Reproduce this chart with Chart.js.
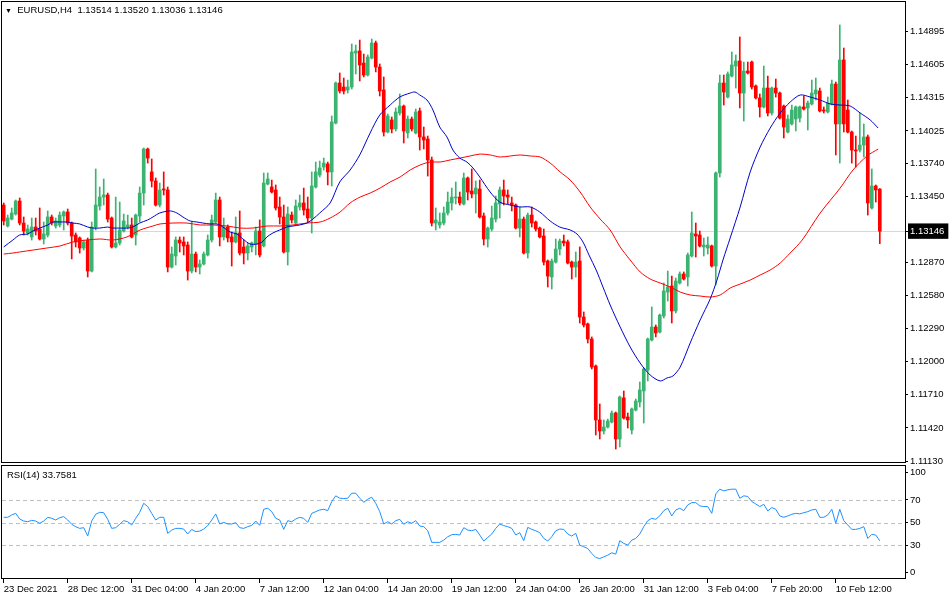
<!DOCTYPE html>
<html><head><meta charset="utf-8">
<script src="https://cdn.jsdelivr.net/npm/chart.js@4.4.0/dist/chart.umd.min.js"></script>
<style>
html,body{margin:0;padding:0;background:#fff;}
#wrap{position:relative;width:950px;height:600px;overflow:hidden;font-family:"Liberation Sans",Arial,sans-serif;}
#c1{position:absolute;left:0;top:0;}
#c2{position:absolute;left:0;top:464px;}
.lbl{position:absolute;font-size:9.5px;line-height:11px;color:#000;white-space:pre;}
</style></head><body>
<div id="wrap">
<canvas id="c1" width="950" height="464"></canvas>
<canvas id="c2" width="950" height="136"></canvas>
<div class="lbl" style="left:5px;top:4px;"><span style="font-size:7px;">▼</span>  EURUSD,H4  1.13514 1.13520 1.13036 1.13146</div>
<div class="lbl" style="left:7px;top:469px;">RSI(14) 33.7581</div>
</div>
<script>
// ---------- DATA ----------
const opens = [1.13375,1.13191,1.13252,1.13296,1.13410,1.13217,1.13130,1.13095,1.13182,1.13165,
1.13077,1.13112,1.13270,1.13191,1.13200,1.13279,1.13314,1.13217,1.13112,1.13086,
1.12998,1.13068,1.12796,1.13182,1.13366,1.13445,1.13463,1.13261,1.13007,1.13042,
1.13147,1.13182,1.13200,1.13112,1.13279,1.13480,1.13866,1.13665,1.13586,1.13375,
1.13515,1.13507,1.12831,1.12928,1.13068,1.13051,1.13024,1.12796,1.12945,1.12831,
1.12858,1.12937,1.13068,1.13226,1.13419,1.13095,1.13182,1.13095,1.13051,1.13130,
1.13007,1.12954,1.13007,1.13033,1.13147,1.13016,1.13559,1.13533,1.13507,1.13358,
1.13270,1.12963,1.13287,1.13217,1.13358,1.13393,1.13340,1.13261,1.13533,1.13638,
1.13708,1.13735,1.13665,1.14094,1.14445,1.14410,1.14384,1.14410,1.14708,1.14726,
1.14620,1.14515,1.14664,1.14796,1.14585,1.14384,1.14015,1.14121,1.14042,1.14182,
1.14243,1.14007,1.14129,1.14007,1.14200,1.13972,1.13954,1.13770,1.13217,1.13200,
1.13217,1.13305,1.13393,1.13437,1.13445,1.13384,1.13612,1.13498,1.13472,1.13515,
1.13279,1.13077,1.13165,1.13252,1.13384,1.13507,1.13463,1.13393,1.13375,1.13173,
1.13252,1.12954,1.13287,1.13226,1.13173,1.13103,1.12884,1.12744,1.12875,1.12989,
1.13059,1.13051,1.12875,1.12831,1.12884,1.12393,1.12332,1.12200,1.11963,1.11490,
1.11393,1.11428,1.11472,1.11551,1.11323,1.11683,1.11516,1.11402,1.11577,1.11647,
1.11744,1.11928,1.12191,1.12305,1.12261,1.12402,1.12612,1.12665,1.12446,1.12691,
1.12770,1.12744,1.12928,1.13121,1.13112,1.13007,1.12998,1.13016,1.12840,1.13656,
1.14445,1.14322,1.14506,1.14594,1.14638,1.14357,1.14550,1.14629,1.14419,1.14314,
1.14235,1.14401,1.14182,1.14401,1.14357,1.14243,1.14015,1.14086,1.14129,1.14138,
1.14235,1.14226,1.14261,1.14349,1.14375,1.14208,1.14191,1.14261,1.14436,1.14086,
1.14647,1.14208,1.14015,1.13857,1.13857,1.13901,1.13972,1.13349,1.13542,1.13514];
const highs = [1.13393,1.13287,1.13349,1.13419,1.13437,1.13270,1.13200,1.13261,1.13261,1.13349,
1.13226,1.13323,1.13287,1.13261,1.13314,1.13323,1.13340,1.13226,1.13130,1.13095,
1.13068,1.13086,1.13226,1.13691,1.13533,1.13603,1.13480,1.13270,1.13445,1.13401,
1.13296,1.13287,1.13261,1.13296,1.13533,1.13875,1.13875,1.13779,1.13612,1.13568,
1.13665,1.13533,1.13007,1.13095,1.13095,1.13095,1.13051,1.13226,1.12963,1.12893,
1.12963,1.13112,1.13287,1.13480,1.13445,1.13261,1.13200,1.13138,1.13270,1.13323,
1.13068,1.13042,1.13051,1.13182,1.13244,1.13656,1.13656,1.13594,1.13551,1.13445,
1.13375,1.13358,1.13314,1.13419,1.13463,1.13524,1.13445,1.13665,1.13752,1.13761,
1.13787,1.13752,1.14156,1.14454,1.14533,1.14489,1.14471,1.14787,1.14778,1.14822,
1.14699,1.14691,1.14831,1.14813,1.14612,1.14498,1.14173,1.14147,1.14226,1.14349,
1.14252,1.14156,1.14147,1.14217,1.14226,1.14059,1.13980,1.13796,1.13349,1.13305,
1.13358,1.13489,1.13524,1.13577,1.13489,1.13656,1.13621,1.13691,1.13586,1.13594,
1.13305,1.13182,1.13366,1.13454,1.13533,1.13594,1.13507,1.13445,1.13384,1.13358,
1.13270,1.13305,1.13358,1.13235,1.13182,1.13165,1.12893,1.12902,1.13077,1.13077,
1.13112,1.13068,1.12884,1.12963,1.13007,1.12437,1.12340,1.12218,1.11972,1.11630,
1.11490,1.11498,1.11569,1.11560,1.11700,1.11744,1.11551,1.11595,1.11674,1.11823,
1.11946,1.12209,1.12481,1.12323,1.12419,1.12691,1.12796,1.12752,1.12735,1.12788,
1.12788,1.12954,1.13314,1.13217,1.13147,1.13086,1.13095,1.13024,1.13665,1.14515,
1.14515,1.14542,1.14717,1.14691,1.14849,1.14629,1.14629,1.14638,1.14428,1.14349,
1.14594,1.14506,1.14410,1.14480,1.14366,1.14252,1.14164,1.14252,1.14243,1.14243,
1.14331,1.14287,1.14471,1.14489,1.14401,1.14235,1.14322,1.14471,1.14454,1.14954,
1.14752,1.14296,1.14024,1.13980,1.14182,1.14086,1.13989,1.13691,1.13551,1.13520];
const lows = [1.13200,1.13182,1.13244,1.13287,1.13200,1.13112,1.13112,1.13068,1.13112,1.13068,
1.13033,1.13095,1.13200,1.13173,1.13182,1.13156,1.13200,1.12902,1.13007,1.12954,
1.12980,1.12744,1.12788,1.13156,1.13331,1.13375,1.13226,1.12998,1.12998,1.13024,
1.13138,1.13165,1.13086,1.13024,1.13226,1.13375,1.13743,1.13533,1.13366,1.13358,
1.13463,1.12788,1.12822,1.12849,1.12963,1.12937,1.12717,1.12779,1.12788,1.12770,
1.12849,1.12928,1.13051,1.13217,1.13016,1.13068,1.13051,1.12840,1.13042,1.12937,
1.12858,1.12893,1.12963,1.12937,1.12919,1.13007,1.13551,1.13480,1.13331,1.13209,
1.12954,1.12849,1.13217,1.13209,1.13331,1.13287,1.13226,1.13130,1.13524,1.13621,
1.13682,1.13551,1.13542,1.14086,1.14357,1.14349,1.14357,1.14392,1.14524,1.14463,
1.14498,1.14506,1.14656,1.14542,1.14331,1.13980,1.14007,1.14007,1.14024,1.14164,
1.13919,1.13963,1.14024,1.13998,1.13857,1.13866,1.13629,1.13191,1.13156,1.13173,
1.13200,1.13287,1.13331,1.13384,1.13375,1.13375,1.13419,1.13437,1.13305,1.13261,
1.13024,1.13007,1.13147,1.13226,1.13261,1.13375,1.13384,1.13323,1.13165,1.13095,
1.12945,1.12910,1.13182,1.13147,1.13086,1.12849,1.12656,1.12638,1.12866,1.12937,
1.13016,1.12858,1.12726,1.12744,1.12340,1.12305,1.12165,1.11937,1.11358,1.11323,
1.11367,1.11419,1.11463,1.11235,1.11253,1.11498,1.11419,1.11367,1.11569,1.11604,
1.11463,1.11832,1.12182,1.12218,1.12253,1.12384,1.12533,1.12340,1.12428,1.12682,
1.12717,1.12665,1.12919,1.12919,1.13007,1.12928,1.12945,1.12831,1.12674,1.13621,
1.14252,1.14314,1.14498,1.14401,1.14226,1.14112,1.14524,1.14392,1.14305,1.14147,
1.14226,1.14156,1.14164,1.14322,1.14129,1.13963,1.14007,1.14077,1.14024,1.14103,
1.14208,1.14033,1.14252,1.14296,1.14191,1.14182,1.14182,1.14252,1.13814,1.13743,
1.14015,1.14007,1.13743,1.13708,1.13840,1.13796,1.13287,1.13340,1.13401,1.13036];
const closes = [1.13235,1.13261,1.13305,1.13410,1.13217,1.13147,1.13165,1.13182,1.13147,1.13077,
1.13121,1.13270,1.13217,1.13235,1.13287,1.13314,1.13217,1.13103,1.13051,1.12998,
1.13051,1.12796,1.13182,1.13375,1.13445,1.13463,1.13252,1.13007,1.13042,1.13156,
1.13235,1.13200,1.13095,1.13287,1.13480,1.13866,1.13787,1.13586,1.13375,1.13507,
1.13507,1.12831,1.12945,1.13068,1.13042,1.13016,1.12796,1.12945,1.12831,1.12858,
1.12945,1.13068,1.13244,1.13419,1.13095,1.13182,1.13086,1.13051,1.13130,1.12954,
1.12954,1.13016,1.13042,1.13147,1.12937,1.13568,1.13603,1.13489,1.13349,1.13270,
1.12963,1.13296,1.13244,1.13366,1.13393,1.13331,1.13261,1.13542,1.13665,1.13700,
1.13743,1.13665,1.14103,1.14445,1.14375,1.14375,1.14410,1.14717,1.14726,1.14603,
1.14515,1.14673,1.14796,1.14585,1.14375,1.14015,1.14156,1.14042,1.14191,1.14243,
1.14024,1.14129,1.14042,1.14191,1.13972,1.13945,1.13770,1.13217,1.13244,1.13226,
1.13305,1.13401,1.13445,1.13445,1.13393,1.13612,1.13489,1.13472,1.13524,1.13270,
1.13077,1.13173,1.13261,1.13393,1.13507,1.13454,1.13445,1.13375,1.13173,1.13252,
1.12954,1.13287,1.13217,1.13165,1.13095,1.12875,1.12752,1.12884,1.12989,1.13059,
1.13042,1.12866,1.12831,1.12875,1.12393,1.12323,1.12200,1.11954,1.11490,1.11393,
1.11428,1.11481,1.11551,1.11323,1.11691,1.11507,1.11490,1.11586,1.11656,1.11753,
1.11937,1.12200,1.12305,1.12253,1.12410,1.12621,1.12656,1.12446,1.12709,1.12770,
1.12726,1.12937,1.13130,1.13103,1.13016,1.13024,1.13024,1.12840,1.13656,1.14445,
1.14366,1.14524,1.14603,1.14638,1.14357,1.14550,1.14533,1.14410,1.14314,1.14235,
1.14401,1.14182,1.14401,1.14357,1.14138,1.14059,1.14129,1.14208,1.14235,1.14235,
1.14217,1.14270,1.14357,1.14384,1.14200,1.14200,1.14270,1.14436,1.14086,1.14647,
1.14086,1.14015,1.13857,1.13849,1.13901,1.13972,1.13393,1.13542,1.13507,1.13146];

const blueMaIdx = [0,2.3,4,6,7.3,9,11,12.3,14,16,17.3,19,21,22.3,24,26,27.3,29,31,32.3,34,36,37.3,39,41.6,43.3,44.8,46.6,48.3,49.8,51.6,53.3,54.8,56.6,58.3,59.8,61.6,63.3,64.6,65.8,67.3,69,70.8,72.3,74,75.8,77.3,79,81.6,84,86.6,89,91.6,94,96.6,99,101.6,102.8,104,105.8,107.3,109,110.8,112.3,114,115.8,117.3,119,121.6,124,126.6,129,131.6,134,136.6,139,141.6,143.3,144.8,146.3,148.1,149.8,151.6,154.1,156.6,159.1,161.6,164.1,165.8,167.3,169.1,171.6,174.1,176.6,178.3,179.8,181.6,184.1,186.6,189.1,191.6,194.1,196.6,199.1,201.6,204.1,206.6,209.1,211.6,214.1,216.6,218.6];
const blueMaVal = [1.13007,1.13068,1.13112,1.13121,1.13147,1.13173,1.13200,1.13226,1.13226,1.13226,1.13217,1.13209,1.13182,1.13173,1.13173,1.13182,1.13173,1.13173,1.13173,1.13182,1.13217,1.13244,1.13270,1.13305,1.13323,1.13305,1.13270,1.13235,1.13226,1.13217,1.13209,1.13209,1.13182,1.13138,1.13121,1.13077,1.13033,1.13033,1.13051,1.13095,1.13130,1.13156,1.13182,1.13191,1.13200,1.13217,1.13252,1.13305,1.13393,1.13577,1.13682,1.13814,1.14007,1.14164,1.14252,1.14322,1.14357,1.14366,1.14340,1.14296,1.14208,1.14059,1.13972,1.13857,1.13787,1.13752,1.13700,1.13621,1.13489,1.13401,1.13375,1.13358,1.13358,1.13314,1.13235,1.13182,1.13156,1.13121,1.13051,1.12937,1.12805,1.12656,1.12498,1.12305,1.12130,1.11989,1.11884,1.11832,1.11858,1.11876,1.11954,1.12165,1.12367,1.12551,1.12717,1.12893,1.13086,1.13358,1.13665,1.13884,1.14050,1.14182,1.14278,1.14340,1.14322,1.14296,1.14261,1.14252,1.14243,1.14182,1.14121,1.14050];
const redMaIdx = [0,2.3,4,7.3,10.8,14.1,17.3,20.8,24.1,27.3,30.8,34.1,37.3,39.1,42.3,45.8,49.1,52.3,55.8,59.1,62.3,65.8,69.1,72.3,75.8,79.1,81.6,84.1,86.6,89.1,91.6,94.1,96.6,99.1,101.6,104.1,106.6,109.1,111.6,114.1,116.6,119.1,121.6,124.1,126.6,129.1,131.6,134.1,136.6,139.1,141.6,144.1,146.6,149.1,151.6,154.1,156.6,159.1,161.6,164.1,166.6,169.1,171.6,174.1,176.6,179.1,181.6,184.1,186.6,189.1,191.6,194.1,196.6,199.6,204.1,209.1,212.3,215.8,218.6];
const redMaVal = [1.12945,1.12954,1.12963,1.12980,1.12998,1.13016,1.13051,1.13068,1.13077,1.13068,1.13095,1.13156,1.13191,1.13209,1.13217,1.13217,1.13200,1.13200,1.13191,1.13173,1.13173,1.13191,1.13191,1.13200,1.13217,1.13226,1.13261,1.13314,1.13393,1.13445,1.13480,1.13524,1.13577,1.13621,1.13682,1.13726,1.13752,1.13752,1.13770,1.13787,1.13805,1.13822,1.13814,1.13796,1.13805,1.13814,1.13805,1.13796,1.13743,1.13665,1.13594,1.13489,1.13358,1.13252,1.13156,1.13007,1.12893,1.12788,1.12726,1.12691,1.12656,1.12612,1.12586,1.12577,1.12568,1.12586,1.12647,1.12682,1.12717,1.12761,1.12805,1.12866,1.12954,1.13068,1.13305,1.13524,1.13682,1.13805,1.13866];

const rsi = [54.6,54.6,56.7,58.1,53.1,51.3,50.7,51.9,51.3,49.3,
51.3,54.6,53.7,52.2,54.3,55.2,52.2,48.4,46.3,44.8,
45.4,38.0,51.3,57.3,59.0,58.7,52.8,44.8,45.4,48.4,
51.6,50.7,47.8,53.7,59.0,67.0,64.1,58.1,52.2,54.6,
54.6,40.4,43.3,44.8,44.8,44.2,39.8,43.9,41.9,42.4,
44.2,47.2,52.2,57.6,48.7,50.1,48.7,48.7,49.9,45.4,
44.8,46.3,47.5,51.3,47.5,61.7,62.6,59.6,53.7,52.2,
43.9,51.6,50.7,53.1,54.6,53.7,50.1,58.1,59.6,61.1,
61.7,60.5,68.5,73.6,71.5,71.2,71.5,75.9,75.9,71.5,
67.9,70.6,72.4,67.0,59.6,48.7,50.7,48.7,51.6,52.8,
48.4,50.7,49.3,51.6,46.9,46.3,42.7,32.4,32.4,32.4,
34.4,37.4,39.2,39.5,38.9,45.4,43.3,42.7,43.9,38.9,
33.6,36.8,39.8,44.8,48.7,47.2,46.3,44.8,38.9,41.0,
33.9,45.7,43.9,42.7,41.0,35.9,33.6,37.4,42.7,44.2,
43.9,39.8,38.0,40.4,30.0,28.5,27.0,22.6,19.0,18.1,
19.6,21.1,23.2,22.0,33.9,31.5,30.0,34.4,35.9,39.8,
46.3,51.6,53.7,52.8,55.8,60.5,62.6,55.8,61.1,62.6,
60.5,65.6,67.6,67.6,64.7,64.1,64.1,58.1,75.3,79.5,
78.0,78.9,79.5,79.5,71.5,73.6,73.0,68.5,66.4,64.1,
66.1,60.2,63.2,61.7,55.8,54.6,55.8,57.3,58.1,57.6,
58.7,59.6,61.1,61.7,54.6,54.6,56.7,61.7,49.3,61.7,
51.6,47.8,43.9,43.9,44.8,46.3,35.9,39.5,38.9,33.76];

const priceTicks = [1.14895,1.14605,1.14315,1.14025,1.13740,1.13450,1.12870,1.12580,1.12290,1.12000,1.11710,1.11420,1.11130];
const lastPrice = 1.13146;
const rsiLevels = [70,50,30];
const rsiAxisLabels = [100,70,50,30,0];
const timeTickIdx = [0,16,32,48,64,80,96,112,128,144,160,176,192,208];
const timeLabels = ["23 Dec 2021","28 Dec 12:00","31 Dec 04:00","4 Jan 20:00","7 Jan 12:00","12 Jan 04:00","14 Jan 20:00","19 Jan 12:00","24 Jan 04:00","26 Jan 20:00","31 Jan 12:00","3 Feb 04:00","7 Feb 20:00","10 Feb 12:00"];

// ---------- STYLE / LAYOUT ----------
const GREEN = '#3cb371', RED = '#ff0000';
const FONT = {family:'"Liberation Sans", Arial, sans-serif', size:9.5};
const X_MIN = -0.425, X_MAX = 225.3;
const Y_MIN = 1.111125, Y_MAX = 1.151555;
const AXIS_W = 45;

const colors = closes.map((c,i)=> c >= opens[i] ? GREEN : RED);
const bodies = closes.map((c,i)=>({x:i, y:[Math.min(opens[i],c), Math.max(opens[i],c)]}));
const wicks = closes.map((c,i)=>({x:i, y:[lows[i], highs[i]]}));
const blueMa = blueMaIdx.map((x,i)=>({x, y:blueMaVal[i]}));
const redMa = redMaIdx.map((x,i)=>({x, y:redMaVal[i]}));
const rsiPts = rsi.map((v,i)=>({x:i, y:v}));

function noPad(s){ s.paddingTop = 0; s.paddingBottom = 0; s.paddingLeft = 0; s.paddingRight = 0; }

const framePlugin = {
  id:'frame',
  afterDraw(chart){
    const a = chart.chartArea, ctx = chart.ctx;
    ctx.save();
    ctx.strokeStyle = '#000'; ctx.lineWidth = 1;
    ctx.strokeRect(Math.round(a.left)-0.5, Math.round(a.top)-0.5, Math.round(a.right-a.left)+1, Math.round(a.bottom-a.top));
    ctx.restore();
  }
};
const priceLinePlugin = {
  id:'priceLine',
  beforeDatasetsDraw(chart){
    const a = chart.chartArea, ctx = chart.ctx;
    const y = Math.round(chart.scales.y.getPixelForValue(lastPrice)) + 0.5;
    ctx.save();
    ctx.strokeStyle = '#d6d6e6'; ctx.lineWidth = 1;
    ctx.beginPath(); ctx.moveTo(a.left, y); ctx.lineTo(a.right, y); ctx.stroke();
    ctx.restore();
  }
};
const levelsPlugin = {
  id:'levels',
  beforeDatasetsDraw(chart){
    const a = chart.chartArea, ctx = chart.ctx;
    ctx.save();
    ctx.strokeStyle = '#c0c0c0'; ctx.lineWidth = 1; ctx.setLineDash([4,3]);
    rsiLevels.forEach(v=>{
      const y = Math.round(chart.scales.y.getPixelForValue(v)) + 0.5;
      ctx.beginPath(); ctx.moveTo(a.left, y); ctx.lineTo(a.right, y); ctx.stroke();
    });
    ctx.restore();
  }
};

new Chart(document.getElementById('c1'), {
  type:'bar',
  data:{datasets:[
    {type:'line', data:blueMa, borderColor:'#0000cd', borderWidth:1, pointRadius:0, tension:0.3, order:0},
    {type:'line', data:redMa, borderColor:'#ff0000', borderWidth:1, pointRadius:0, tension:0.3, order:1},
    {type:'bar', data:bodies, backgroundColor:colors, barThickness:3, grouped:false, minBarLength:1, borderWidth:0, order:2},
    {type:'bar', data:wicks, backgroundColor:colors, barThickness:1, grouped:false, borderWidth:0, order:3}
  ]},
  options:{
    responsive:false, animation:false, events:[],
    layout:{padding:{left:2, top:2, right:0, bottom:1}},
    plugins:{legend:{display:false}, tooltip:{enabled:false}},
    scales:{
      x:{type:'linear', min:X_MIN, max:X_MAX, offset:false, display:false},
      y:{position:'right', min:Y_MIN, max:Y_MAX,
         afterFit(s){ s.width = AXIS_W; noPad(s); },
         afterBuildTicks(s){ s.ticks = priceTicks.concat([lastPrice]).map(v=>({value:v})); },
         grid:{drawOnChartArea:false, drawTicks:true, tickLength:3, color:'#000'},
         border:{display:false},
         ticks:{font:FONT, padding:2, autoSkip:false,
           color:(c)=> (c.tick && c.tick.value===lastPrice) ? '#fff' : '#000',
           showLabelBackdrop:(c)=> !!(c.tick && c.tick.value===lastPrice),
           backdropColor:'#000', backdropPadding:{top:2,bottom:2,left:2,right:4},
           callback:(v)=> Number(v).toFixed(5)}
      }
    }
  },
  plugins:[priceLinePlugin, framePlugin]
});

new Chart(document.getElementById('c2'), {
  type:'line',
  data:{datasets:[
    {data:rsiPts, borderColor:'#1e90ff', borderWidth:1, pointRadius:0, tension:0}
  ]},
  options:{
    responsive:false, animation:false, events:[],
    layout:{padding:{left:2, top:2, right:0, bottom:0}},
    plugins:{legend:{display:false}, tooltip:{enabled:false}},
    scales:{
      x:{type:'linear', min:X_MIN, max:X_MAX, offset:false,
         afterFit(s){ s.height = 21; noPad(s); },
         afterBuildTicks(s){ s.ticks = timeTickIdx.map(v=>({value:v})); },
         grid:{drawOnChartArea:false, drawTicks:true, tickLength:4, color:'#000'},
         border:{display:false},
         ticks:{font:FONT, color:'#000', align:'start', maxRotation:0, autoSkip:false, padding:1,
           callback:(v)=> timeLabels[timeTickIdx.indexOf(v)]}
      },
      y:{position:'right', min:0, max:100,
         afterFit(s){ s.width = AXIS_W; noPad(s); },
         afterBuildTicks(s){ s.ticks = rsiAxisLabels.map(v=>({value: v===100 ? 94.5 : (v===0 ? 5.5 : v)})); },
         grid:{drawOnChartArea:false, drawTicks:true, tickLength:3, color:'#000'},
         border:{display:false},
         ticks:{font:FONT, color:'#000', padding:2, autoSkip:false,
           callback:(v)=> v>90 ? '100' : (v<10 ? '0' : String(v))}
      }
    }
  },
  plugins:[levelsPlugin, framePlugin]
});
</script>
</body></html>
